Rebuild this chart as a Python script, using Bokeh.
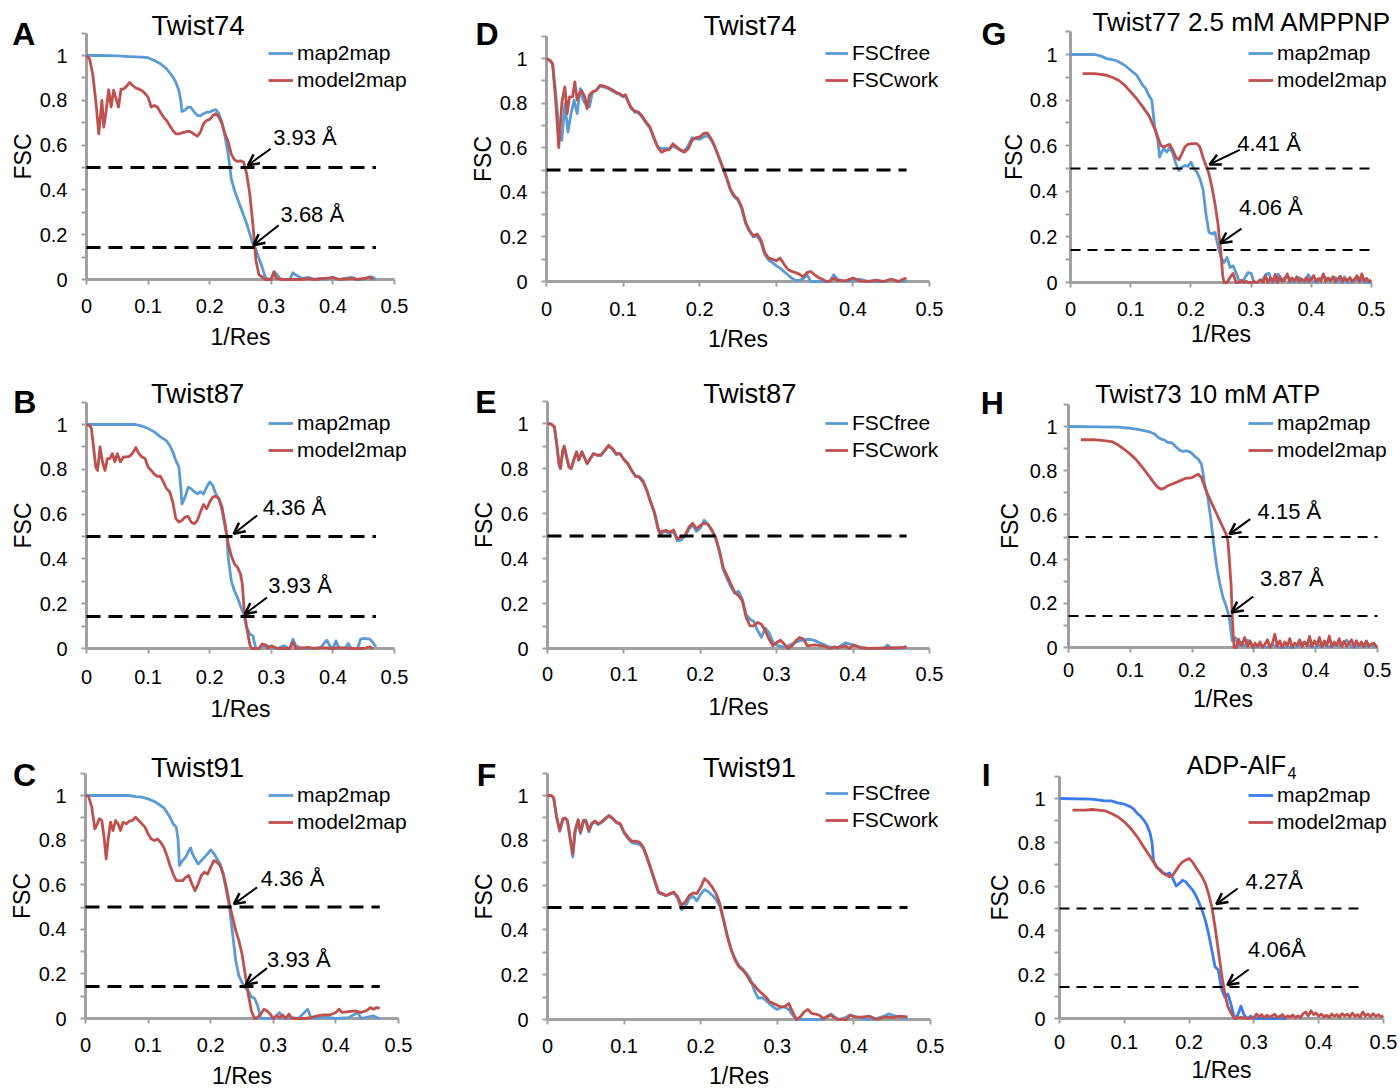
from bokeh.plotting import figure
from bokeh.models import (Range1d, FixedTicker, PrintfTickFormatter, Label, Arrow,
                          OpenHead, Legend, LegendItem)
from bokeh.layouts import row, column
from bokeh.embed import file_html
from bokeh.resources import INLINE

FONT = "Liberation Sans"
BLUE = "#5B9BD5"
RED = "#C0504D"
BLUE_I = "#3D7BF2"
AXIS = "#A0A0A0"

# ---------------- data (x = 1/Res, y = FSC) ----------------
X_TICKS = [0, 0.1, 0.2, 0.3, 0.4, 0.5]
Y_TICKS = [0, 0.2, 0.4, 0.6, 0.8, 1.0]
Y_MINOR = [0.1, 0.3, 0.5, 0.7, 0.9, 1.1]
THRESH_HALF = 0.5
THRESH_GOLD = 0.143

A_map = [(0,1.0),(0.02,1.0),(0.05,0.998),(0.07,0.995),(0.09,0.993),(0.1,0.99),(0.11,0.978),(0.12,0.963),(0.13,0.94),(0.14,0.906),(0.145,0.88),(0.15,0.844),(0.153,0.80),(0.155,0.75),(0.16,0.757),(0.165,0.77),(0.17,0.767),(0.175,0.747),(0.18,0.733),(0.185,0.73),(0.19,0.74),(0.195,0.747),(0.2,0.747),(0.205,0.755),(0.21,0.758),(0.215,0.74),(0.22,0.70),(0.225,0.636),(0.23,0.56),(0.235,0.45),(0.24,0.40),(0.25,0.324),(0.26,0.25),(0.27,0.16),(0.275,0.134),(0.28,0.094),(0.285,0.056),(0.29,0.012),(0.295,0.0),(0.3,0.005),(0.305,0.034),(0.31,0.02),(0.315,0.0),(0.33,0.0),(0.335,0.03),(0.34,0.02),(0.35,0.005),(0.36,0.01),(0.37,0.0),(0.38,0.005),(0.39,0.0),(0.4,0.01),(0.41,0.0),(0.42,0.005),(0.43,0.01),(0.44,0.0),(0.45,0.0),(0.46,0.012),(0.465,0.01),(0.47,0.0)]
A_model = [(0,1.0),(0.005,0.985),(0.01,0.918),(0.015,0.80),(0.02,0.65),(0.025,0.80),(0.028,0.68),(0.032,0.755),(0.036,0.847),(0.04,0.77),(0.044,0.845),(0.048,0.807),(0.052,0.77),(0.056,0.85),(0.06,0.85),(0.065,0.862),(0.07,0.88),(0.075,0.866),(0.08,0.855),(0.085,0.85),(0.09,0.844),(0.095,0.83),(0.1,0.814),(0.105,0.77),(0.11,0.777),(0.115,0.77),(0.12,0.747),(0.125,0.725),(0.13,0.71),(0.135,0.688),(0.14,0.666),(0.145,0.65),(0.15,0.65),(0.155,0.655),(0.16,0.658),(0.165,0.662),(0.17,0.658),(0.175,0.648),(0.18,0.64),(0.185,0.658),(0.19,0.695),(0.195,0.71),(0.2,0.715),(0.205,0.732),(0.21,0.74),(0.215,0.725),(0.22,0.695),(0.225,0.65),(0.23,0.614),(0.235,0.56),(0.24,0.535),(0.245,0.527),(0.25,0.53),(0.255,0.524),(0.26,0.472),(0.265,0.383),(0.27,0.25),(0.275,0.086),(0.28,0.02),(0.285,0.012),(0.29,0.0),(0.3,0.0),(0.304,0.034),(0.308,0.005),(0.32,0.0),(0.35,0.0),(0.36,0.004),(0.37,0.0),(0.4,0.008),(0.41,0.0),(0.43,0.005),(0.44,0.0),(0.46,0.01),(0.465,0.0)]

B_map = [(0,1.0),(0.08,1.0),(0.09,0.993),(0.1,0.982),(0.11,0.967),(0.12,0.945),(0.13,0.927),(0.135,0.907),(0.14,0.878),(0.145,0.84),(0.15,0.81),(0.153,0.72),(0.155,0.646),(0.16,0.676),(0.165,0.72),(0.17,0.713),(0.175,0.70),(0.18,0.69),(0.185,0.70),(0.19,0.69),(0.195,0.72),(0.2,0.743),(0.205,0.728),(0.21,0.69),(0.215,0.668),(0.22,0.616),(0.225,0.54),(0.228,0.497),(0.23,0.407),(0.235,0.303),(0.24,0.258),(0.245,0.228),(0.25,0.19),(0.255,0.154),(0.26,0.094),(0.265,0.064),(0.27,0.057),(0.275,0.0),(0.28,0.0),(0.29,0.016),(0.3,0.005),(0.31,0.0),(0.32,0.012),(0.33,0.0),(0.335,0.042),(0.34,0.012),(0.35,0.0),(0.37,0.0),(0.38,0.004),(0.39,0.037),(0.395,0.012),(0.4,0.0),(0.405,0.034),(0.41,0.0),(0.42,0.002),(0.425,0.022),(0.43,0.0),(0.44,0.0),(0.445,0.042),(0.45,0.045),(0.46,0.042),(0.465,0.027),(0.47,0.007)]
B_model = [(0,1.0),(0.005,0.995),(0.008,0.982),(0.012,0.885),(0.015,0.81),(0.018,0.795),(0.022,0.90),(0.026,0.833),(0.03,0.795),(0.034,0.848),(0.038,0.848),(0.042,0.87),(0.046,0.833),(0.05,0.87),(0.055,0.833),(0.06,0.855),(0.065,0.855),(0.07,0.858),(0.075,0.873),(0.08,0.897),(0.085,0.87),(0.09,0.855),(0.095,0.848),(0.1,0.81),(0.105,0.795),(0.11,0.778),(0.115,0.769),(0.12,0.769),(0.125,0.743),(0.13,0.713),(0.135,0.70),(0.14,0.654),(0.145,0.58),(0.15,0.564),(0.155,0.572),(0.16,0.587),(0.165,0.59),(0.17,0.564),(0.175,0.557),(0.18,0.572),(0.185,0.61),(0.19,0.643),(0.195,0.624),(0.2,0.654),(0.205,0.676),(0.21,0.68),(0.215,0.668),(0.22,0.631),(0.225,0.557),(0.228,0.504),(0.23,0.467),(0.235,0.415),(0.24,0.378),(0.245,0.363),(0.25,0.333),(0.253,0.288),(0.256,0.169),(0.26,0.094),(0.265,0.019),(0.268,0.0),(0.28,0.0),(0.285,0.02),(0.29,0.016),(0.295,0.0),(0.3,0.012),(0.31,0.0),(0.33,0.0),(0.335,0.027),(0.34,0.0),(0.36,0.005),(0.37,0.0),(0.38,0.004),(0.4,0.0),(0.41,0.004),(0.43,0.0),(0.45,0.0),(0.46,0.007),(0.465,0.0)]

C_map = [(0,1.0),(0.07,1.0),(0.08,0.995),(0.09,0.993),(0.1,0.985),(0.11,0.973),(0.12,0.955),(0.125,0.945),(0.13,0.925),(0.135,0.903),(0.14,0.873),(0.145,0.858),(0.148,0.80),(0.15,0.686),(0.155,0.708),(0.16,0.723),(0.165,0.753),(0.168,0.765),(0.17,0.744),(0.175,0.716),(0.18,0.693),(0.185,0.708),(0.19,0.723),(0.195,0.738),(0.2,0.756),(0.205,0.741),(0.21,0.716),(0.215,0.693),(0.22,0.648),(0.225,0.573),(0.23,0.499),(0.235,0.379),(0.24,0.259),(0.245,0.192),(0.25,0.162),(0.255,0.139),(0.26,0.124),(0.265,0.097),(0.27,0.091),(0.275,0.057),(0.28,0.0),(0.3,0.0),(0.31,0.027),(0.315,0.0),(0.33,0.004),(0.34,0.0),(0.355,0.042),(0.36,0.004),(0.37,0.0),(0.38,0.007),(0.4,0.0),(0.42,0.004),(0.435,0.027),(0.44,0.0),(0.46,0.012),(0.465,0.004),(0.47,0.0)]
C_model = [(0,1.0),(0.005,0.995),(0.01,0.948),(0.015,0.85),(0.018,0.866),(0.022,0.896),(0.026,0.888),(0.03,0.805),(0.033,0.716),(0.036,0.798),(0.04,0.88),(0.044,0.843),(0.048,0.888),(0.052,0.873),(0.056,0.843),(0.06,0.88),(0.065,0.873),(0.07,0.885),(0.075,0.888),(0.08,0.903),(0.085,0.888),(0.09,0.873),(0.095,0.858),(0.1,0.828),(0.105,0.805),(0.11,0.798),(0.115,0.805),(0.12,0.79),(0.125,0.768),(0.13,0.731),(0.135,0.686),(0.14,0.648),(0.145,0.618),(0.15,0.618),(0.155,0.618),(0.16,0.633),(0.165,0.641),(0.17,0.603),(0.175,0.573),(0.18,0.603),(0.185,0.641),(0.19,0.656),(0.195,0.648),(0.2,0.678),(0.205,0.708),(0.21,0.701),(0.215,0.686),(0.22,0.648),(0.225,0.588),(0.23,0.513),(0.235,0.454),(0.24,0.394),(0.245,0.349),(0.25,0.289),(0.255,0.199),(0.26,0.109),(0.265,0.034),(0.27,0.0),(0.275,0.005),(0.28,0.02),(0.285,0.042),(0.29,0.034),(0.295,0.02),(0.3,0.0),(0.305,0.012),(0.31,0.004),(0.315,0.016),(0.32,0.0),(0.325,0.02),(0.33,0.0),(0.35,0.0),(0.36,0.004),(0.37,0.012),(0.38,0.016),(0.39,0.016),(0.4,0.027),(0.405,0.042),(0.41,0.027),(0.42,0.031),(0.43,0.034),(0.44,0.027),(0.45,0.037),(0.455,0.049),(0.46,0.042),(0.465,0.049),(0.47,0.045)]

D_free = [(0,1.0),(0.005,0.99),(0.008,0.975),(0.012,0.843),(0.016,0.693),(0.02,0.633),(0.024,0.798),(0.028,0.67),(0.032,0.753),(0.036,0.813),(0.04,0.753),(0.044,0.865),(0.048,0.813),(0.052,0.79),(0.056,0.783),(0.06,0.85),(0.065,0.858),(0.07,0.876),(0.075,0.872),(0.08,0.866),(0.085,0.857),(0.09,0.846),(0.095,0.84),(0.1,0.828),(0.103,0.834),(0.107,0.8),(0.11,0.778),(0.115,0.76),(0.12,0.756),(0.125,0.736),(0.13,0.71),(0.135,0.688),(0.14,0.642),(0.145,0.605),(0.15,0.595),(0.155,0.598),(0.16,0.594),(0.165,0.608),(0.17,0.598),(0.175,0.59),(0.18,0.585),(0.185,0.61),(0.19,0.645),(0.195,0.64),(0.2,0.638),(0.205,0.648),(0.21,0.655),(0.215,0.635),(0.22,0.6),(0.225,0.555),(0.23,0.51),(0.235,0.465),(0.24,0.41),(0.245,0.38),(0.25,0.365),(0.255,0.325),(0.26,0.26),(0.265,0.225),(0.27,0.2),(0.275,0.205),(0.28,0.175),(0.285,0.12),(0.29,0.095),(0.295,0.085),(0.3,0.07),(0.305,0.06),(0.31,0.045),(0.315,0.03),(0.32,0.015),(0.325,0.005),(0.33,0.005),(0.335,0.012),(0.34,0.03),(0.345,0.0),(0.37,0.0),(0.375,0.03),(0.38,0.01),(0.39,0.0),(0.4,0.005),(0.41,0.01),(0.42,0.0),(0.44,0.0),(0.45,0.01),(0.46,0.0),(0.47,0.0)]
D_work = [(0,1.0),(0.005,0.99),(0.008,0.975),(0.012,0.81),(0.016,0.60),(0.02,0.80),(0.024,0.873),(0.027,0.753),(0.03,0.828),(0.034,0.828),(0.037,0.895),(0.04,0.813),(0.043,0.843),(0.046,0.855),(0.05,0.828),(0.053,0.775),(0.056,0.835),(0.06,0.85),(0.065,0.858),(0.07,0.88),(0.075,0.876),(0.08,0.87),(0.085,0.861),(0.09,0.85),(0.095,0.843),(0.1,0.831),(0.103,0.838),(0.107,0.805),(0.11,0.783),(0.115,0.765),(0.12,0.76),(0.125,0.741),(0.13,0.715),(0.135,0.693),(0.14,0.648),(0.145,0.603),(0.15,0.58),(0.155,0.588),(0.16,0.591),(0.165,0.618),(0.17,0.603),(0.175,0.588),(0.18,0.58),(0.185,0.595),(0.19,0.633),(0.195,0.645),(0.2,0.648),(0.205,0.663),(0.21,0.666),(0.215,0.64),(0.22,0.603),(0.225,0.558),(0.23,0.513),(0.235,0.468),(0.24,0.415),(0.245,0.385),(0.25,0.37),(0.255,0.333),(0.26,0.265),(0.265,0.228),(0.27,0.205),(0.275,0.213),(0.28,0.186),(0.285,0.13),(0.29,0.105),(0.295,0.10),(0.3,0.093),(0.305,0.105),(0.31,0.078),(0.315,0.055),(0.32,0.045),(0.325,0.04),(0.33,0.033),(0.335,0.021),(0.34,0.04),(0.345,0.045),(0.35,0.03),(0.355,0.018),(0.36,0.01),(0.365,0.0),(0.37,0.003),(0.375,0.015),(0.38,0.006),(0.39,0.003),(0.4,0.015),(0.41,0.003),(0.42,0.0),(0.43,0.006),(0.44,0.0),(0.45,0.01),(0.46,0.0),(0.465,0.01),(0.47,0.015)]

E_free = [(0,1.0),(0.005,0.997),(0.009,0.985),(0.012,0.91),(0.015,0.822),(0.017,0.80),(0.02,0.88),(0.022,0.899),(0.025,0.851),(0.028,0.807),(0.031,0.80),(0.035,0.844),(0.038,0.874),(0.041,0.837),(0.045,0.874),(0.048,0.851),(0.052,0.822),(0.056,0.844),(0.06,0.866),(0.065,0.859),(0.07,0.859),(0.075,0.881),(0.08,0.9),(0.085,0.884),(0.09,0.862),(0.095,0.866),(0.1,0.84),(0.105,0.822),(0.11,0.792),(0.115,0.768),(0.12,0.765),(0.125,0.748),(0.13,0.703),(0.135,0.651),(0.14,0.6),(0.145,0.525),(0.148,0.503),(0.15,0.515),(0.155,0.52),(0.16,0.51),(0.165,0.52),(0.17,0.478),(0.175,0.482),(0.18,0.5),(0.185,0.53),(0.19,0.55),(0.195,0.52),(0.2,0.535),(0.205,0.57),(0.21,0.552),(0.215,0.525),(0.22,0.49),(0.225,0.43),(0.23,0.35),(0.235,0.31),(0.24,0.275),(0.245,0.245),(0.25,0.255),(0.255,0.22),(0.26,0.15),(0.265,0.13),(0.27,0.12),(0.275,0.08),(0.28,0.05),(0.285,0.09),(0.29,0.07),(0.295,0.03),(0.3,0.015),(0.31,0.005),(0.32,0.02),(0.33,0.035),(0.34,0.04),(0.345,0.04),(0.35,0.035),(0.36,0.02),(0.37,0.005),(0.38,0.005),(0.39,0.025),(0.4,0.015),(0.41,0.005),(0.42,0.0),(0.44,0.0),(0.445,0.015),(0.45,0.0),(0.46,0.0),(0.47,0.01)]
E_work = [(0,1.0),(0.005,0.997),(0.009,0.985),(0.012,0.91),(0.015,0.822),(0.017,0.80),(0.02,0.88),(0.022,0.899),(0.025,0.851),(0.028,0.807),(0.031,0.80),(0.035,0.844),(0.038,0.874),(0.041,0.837),(0.045,0.874),(0.048,0.851),(0.052,0.822),(0.056,0.844),(0.06,0.866),(0.065,0.859),(0.07,0.859),(0.075,0.881),(0.08,0.903),(0.085,0.889),(0.09,0.866),(0.095,0.866),(0.1,0.84),(0.105,0.822),(0.11,0.792),(0.115,0.765),(0.12,0.762),(0.125,0.74),(0.13,0.703),(0.135,0.651),(0.14,0.606),(0.145,0.532),(0.148,0.51),(0.15,0.522),(0.155,0.525),(0.16,0.517),(0.165,0.527),(0.17,0.487),(0.175,0.495),(0.18,0.502),(0.185,0.539),(0.19,0.557),(0.195,0.532),(0.2,0.547),(0.205,0.557),(0.21,0.551),(0.215,0.527),(0.22,0.495),(0.225,0.435),(0.23,0.361),(0.235,0.324),(0.24,0.287),(0.245,0.25),(0.25,0.235),(0.255,0.212),(0.26,0.138),(0.265,0.101),(0.27,0.101),(0.275,0.116),(0.28,0.108),(0.285,0.079),(0.29,0.042),(0.295,0.012),(0.3,0.027),(0.305,0.037),(0.31,0.019),(0.315,0.0),(0.32,0.012),(0.325,0.034),(0.33,0.049),(0.335,0.042),(0.34,0.012),(0.35,0.016),(0.36,0.012),(0.37,0.0),(0.375,0.007),(0.38,0.004),(0.39,0.012),(0.395,0.0),(0.4,0.016),(0.41,0.004),(0.42,0.0),(0.47,0.005)]

F_free = [(0,1.0),(0.005,1.0),(0.008,0.99),(0.012,0.9),(0.016,0.84),(0.02,0.893),(0.023,0.897),(0.026,0.885),(0.03,0.795),(0.033,0.725),(0.036,0.835),(0.04,0.885),(0.043,0.83),(0.047,0.882),(0.05,0.884),(0.054,0.838),(0.058,0.872),(0.062,0.882),(0.066,0.87),(0.07,0.878),(0.075,0.893),(0.08,0.908),(0.085,0.896),(0.09,0.878),(0.095,0.87),(0.1,0.832),(0.105,0.808),(0.11,0.79),(0.115,0.785),(0.12,0.782),(0.125,0.765),(0.13,0.72),(0.135,0.668),(0.14,0.615),(0.145,0.565),(0.15,0.558),(0.155,0.552),(0.16,0.56),(0.165,0.565),(0.17,0.54),(0.175,0.49),(0.18,0.505),(0.185,0.54),(0.19,0.55),(0.195,0.53),(0.2,0.56),(0.205,0.58),(0.21,0.57),(0.215,0.555),(0.22,0.535),(0.225,0.505),(0.23,0.44),(0.235,0.37),(0.24,0.31),(0.245,0.27),(0.25,0.24),(0.255,0.225),(0.26,0.205),(0.265,0.18),(0.27,0.13),(0.275,0.095),(0.28,0.098),(0.285,0.085),(0.29,0.07),(0.295,0.055),(0.3,0.045),(0.305,0.055),(0.31,0.055),(0.315,0.045),(0.32,0.02),(0.325,0.0),(0.36,0.0),(0.365,0.015),(0.37,0.025),(0.375,0.01),(0.38,0.0),(0.39,0.01),(0.395,0.02),(0.4,0.015),(0.41,0.005),(0.42,0.0),(0.43,0.005),(0.44,0.015),(0.445,0.025),(0.45,0.02),(0.46,0.01),(0.47,0.005)]
F_work = [(0,1.0),(0.005,1.0),(0.008,0.99),(0.012,0.903),(0.016,0.844),(0.02,0.896),(0.023,0.9),(0.026,0.889),(0.03,0.8),(0.033,0.74),(0.036,0.844),(0.04,0.892),(0.043,0.837),(0.047,0.889),(0.05,0.889),(0.054,0.844),(0.058,0.877),(0.062,0.886),(0.066,0.874),(0.07,0.881),(0.075,0.896),(0.08,0.911),(0.085,0.899),(0.09,0.881),(0.095,0.874),(0.1,0.837),(0.105,0.814),(0.11,0.796),(0.115,0.796),(0.12,0.792),(0.125,0.77),(0.13,0.725),(0.135,0.673),(0.14,0.621),(0.145,0.569),(0.15,0.562),(0.155,0.554),(0.16,0.562),(0.165,0.569),(0.17,0.547),(0.175,0.51),(0.18,0.525),(0.185,0.554),(0.19,0.565),(0.195,0.562),(0.2,0.591),(0.205,0.629),(0.21,0.614),(0.215,0.591),(0.22,0.562),(0.225,0.517),(0.23,0.443),(0.235,0.368),(0.24,0.309),(0.245,0.264),(0.25,0.235),(0.255,0.22),(0.26,0.198),(0.265,0.168),(0.27,0.153),(0.275,0.131),(0.28,0.116),(0.285,0.101),(0.29,0.079),(0.295,0.071),(0.3,0.064),(0.305,0.056),(0.31,0.059),(0.315,0.071),(0.32,0.034),(0.325,0.0),(0.33,0.012),(0.335,0.034),(0.34,0.045),(0.345,0.027),(0.35,0.024),(0.355,0.019),(0.36,0.004),(0.365,0.012),(0.37,0.019),(0.375,0.008),(0.38,0.0),(0.39,0.0),(0.395,0.019),(0.4,0.012),(0.41,0.01),(0.42,0.015),(0.43,0.0),(0.44,0.012),(0.45,0.008),(0.46,0.015),(0.47,0.012)]

G_map = [(0,1.0),(0.04,1.0),(0.05,0.994),(0.06,0.982),(0.07,0.978),(0.08,0.968),(0.09,0.953),(0.1,0.931),(0.11,0.909),(0.115,0.887),(0.12,0.865),(0.125,0.85),(0.13,0.821),(0.135,0.799),(0.14,0.682),(0.145,0.623),(0.148,0.55),(0.15,0.565),(0.155,0.587),(0.16,0.572),(0.165,0.594),(0.17,0.565),(0.175,0.521),(0.18,0.491),(0.185,0.506),(0.19,0.513),(0.195,0.509),(0.2,0.528),(0.205,0.499),(0.21,0.484),(0.215,0.455),(0.22,0.411),(0.225,0.301),(0.23,0.22),(0.235,0.213),(0.24,0.22),(0.245,0.161),(0.25,0.11),(0.255,0.088),(0.26,0.11),(0.265,0.066),(0.27,0.073),(0.275,0.044),(0.28,0.007),(0.285,0.0),(0.29,0.022),(0.295,0.044),(0.3,0.04),(0.305,0.0),(0.31,0.0),(0.32,0.015),(0.325,0.037),(0.33,0.04),(0.335,0.0),(0.34,0.007),(0.345,0.037),(0.35,0.01),(0.36,0.029),(0.37,0.0),(0.38,0.022),(0.39,0.0),(0.395,0.034),(0.4,0.01),(0.41,0.0),(0.42,0.028),(0.43,0.007),(0.44,0.022),(0.45,0.0),(0.455,0.025),(0.46,0.0),(0.47,0.007),(0.48,0.015),(0.49,0.0),(0.5,0.0)]
G_model = [(0.02,0.916),(0.04,0.916),(0.05,0.913),(0.06,0.909),(0.07,0.899),(0.08,0.887),(0.09,0.865),(0.1,0.836),(0.11,0.806),(0.12,0.77),(0.13,0.733),(0.14,0.674),(0.145,0.638),(0.15,0.601),(0.155,0.594),(0.16,0.601),(0.165,0.606),(0.17,0.579),(0.175,0.55),(0.18,0.538),(0.185,0.565),(0.19,0.594),(0.195,0.606),(0.2,0.609),(0.205,0.609),(0.21,0.609),(0.215,0.594),(0.22,0.55),(0.225,0.513),(0.23,0.477),(0.235,0.418),(0.24,0.345),(0.245,0.257),(0.25,0.125),(0.253,0.029),(0.255,0.0),(0.26,0.0),(0.265,0.022),(0.27,0.04),(0.275,0.0),(0.28,0.0),(0.284,0.01),(0.288,0.0),(0.292,0.005),(0.296,0.0),(0.3,0.0),(0.305,0.004),(0.31,0.0),(0.315,0.012),(0.32,0.0),(0.324,0.03),(0.328,0.0),(0.332,0.02),(0.336,0.004),(0.34,0.035),(0.344,0.0),(0.348,0.025),(0.352,0.005),(0.356,0.012),(0.36,0.038),(0.364,0.004),(0.368,0.02),(0.372,0.008),(0.376,0.025),(0.38,0.004),(0.384,0.015),(0.388,0.006),(0.392,0.022),(0.396,0.004),(0.4,0.015),(0.404,0.03),(0.408,0.004),(0.412,0.018),(0.416,0.006),(0.42,0.038),(0.424,0.004),(0.428,0.02),(0.432,0.008),(0.436,0.025),(0.44,0.004),(0.444,0.015),(0.448,0.028),(0.452,0.004),(0.456,0.018),(0.46,0.008),(0.464,0.022),(0.468,0.004),(0.472,0.015),(0.476,0.03),(0.48,0.004),(0.484,0.038),(0.488,0.006),(0.492,0.018),(0.496,0.004),(0.5,0.01)]

H_map = [(0,1.0),(0.05,0.998),(0.08,0.997),(0.1,0.992),(0.11,0.988),(0.12,0.983),(0.13,0.977),(0.14,0.965),(0.145,0.95),(0.15,0.943),(0.155,0.94),(0.16,0.928),(0.165,0.928),(0.17,0.92),(0.175,0.905),(0.18,0.893),(0.185,0.887),(0.19,0.89),(0.195,0.887),(0.2,0.878),(0.205,0.863),(0.21,0.852),(0.215,0.83),(0.218,0.784),(0.22,0.739),(0.225,0.686),(0.23,0.588),(0.235,0.468),(0.24,0.362),(0.245,0.287),(0.25,0.226),(0.255,0.189),(0.26,0.136),(0.265,0.03),(0.27,0.045),(0.275,0.008),(0.28,0.023),(0.285,0.003),(0.29,0.033),(0.295,0.018),(0.3,0.0),(0.31,0.008),(0.32,0.0),(0.33,0.012),(0.34,0.0),(0.37,0.003),(0.38,0.023),(0.39,0.008),(0.4,0.0),(0.41,0.015),(0.42,0.003),(0.43,0.008),(0.44,0.012),(0.45,0.033),(0.455,0.015),(0.46,0.0),(0.47,0.008),(0.48,0.003),(0.49,0.012),(0.5,0.0)]
H_model = [(0.02,0.94),(0.04,0.94),(0.05,0.938),(0.06,0.935),(0.07,0.932),(0.08,0.917),(0.09,0.897),(0.1,0.875),(0.11,0.848),(0.12,0.814),(0.13,0.777),(0.14,0.739),(0.145,0.724),(0.15,0.716),(0.155,0.721),(0.16,0.731),(0.17,0.742),(0.18,0.754),(0.19,0.766),(0.195,0.766),(0.2,0.769),(0.205,0.777),(0.21,0.784),(0.215,0.769),(0.22,0.731),(0.225,0.694),(0.23,0.664),(0.235,0.633),(0.24,0.603),(0.245,0.573),(0.25,0.543),(0.255,0.513),(0.258,0.483),(0.26,0.407),(0.263,0.287),(0.265,0.136),(0.268,0.0),(0.272,0.0),(0.275,0.038),(0.28,0.008),(0.285,0.045),(0.29,0.005),(0.294,0.03),(0.298,0.0),(0.302,0.02),(0.306,0.005),(0.31,0.025),(0.314,0.0),(0.318,0.015),(0.322,0.035),(0.326,0.0),(0.33,0.02),(0.334,0.06),(0.338,0.005),(0.342,0.03),(0.346,0.0),(0.35,0.025),(0.354,0.008),(0.358,0.04),(0.362,0.0),(0.366,0.02),(0.37,0.01),(0.374,0.035),(0.378,0.004),(0.382,0.025),(0.386,0.008),(0.39,0.05),(0.394,0.004),(0.398,0.03),(0.402,0.01),(0.406,0.045),(0.41,0.004),(0.414,0.03),(0.418,0.008),(0.422,0.052),(0.426,0.004),(0.43,0.025),(0.434,0.01),(0.438,0.04),(0.442,0.004),(0.446,0.028),(0.45,0.006),(0.454,0.02),(0.458,0.035),(0.462,0.004),(0.466,0.03),(0.47,0.008),(0.474,0.025),(0.478,0.004),(0.482,0.03),(0.486,0.006),(0.49,0.015),(0.494,0.02),(0.498,0.004),(0.5,0.008)]

I_map = [(0,1.0),(0.05,0.997),(0.07,0.989),(0.08,0.989),(0.09,0.98),(0.1,0.974),(0.11,0.962),(0.115,0.95),(0.12,0.932),(0.125,0.92),(0.13,0.902),(0.135,0.879),(0.14,0.841),(0.143,0.795),(0.145,0.72),(0.15,0.686),(0.155,0.677),(0.16,0.662),(0.165,0.655),(0.17,0.662),(0.175,0.636),(0.18,0.602),(0.185,0.614),(0.19,0.629),(0.195,0.621),(0.2,0.602),(0.205,0.586),(0.21,0.561),(0.215,0.53),(0.22,0.492),(0.225,0.447),(0.23,0.386),(0.235,0.311),(0.24,0.235),(0.245,0.22),(0.25,0.136),(0.255,0.098),(0.26,0.111),(0.265,0.061),(0.27,0.0),(0.275,0.015),(0.28,0.056),(0.285,0.015),(0.29,0.0),(0.295,0.011),(0.3,0.0),(0.35,0.0)]
I_model = [(0.02,0.947),(0.04,0.947),(0.05,0.95),(0.06,0.947),(0.07,0.944),(0.08,0.932),(0.09,0.917),(0.1,0.894),(0.11,0.864),(0.12,0.826),(0.13,0.78),(0.14,0.735),(0.15,0.689),(0.16,0.659),(0.17,0.644),(0.175,0.652),(0.18,0.674),(0.185,0.697),(0.19,0.712),(0.195,0.72),(0.2,0.727),(0.205,0.712),(0.21,0.689),(0.215,0.667),(0.22,0.644),(0.225,0.614),(0.23,0.568),(0.235,0.508),(0.24,0.417),(0.245,0.311),(0.25,0.205),(0.255,0.114),(0.26,0.053),(0.265,0.023),(0.27,0.0),(0.28,0.005),(0.29,0.0),(0.3,0.004),(0.304,0.02),(0.308,0.008),(0.312,0.018),(0.316,0.004),(0.32,0.015),(0.324,0.006),(0.328,0.012),(0.332,0.02),(0.336,0.004),(0.34,0.01),(0.344,0.018),(0.348,0.004),(0.352,0.012),(0.356,0.006),(0.36,0.016),(0.364,0.004),(0.368,0.012),(0.372,0.005),(0.376,0.022),(0.38,0.03),(0.384,0.012),(0.388,0.035),(0.392,0.018),(0.396,0.025),(0.4,0.01),(0.404,0.02),(0.408,0.008),(0.412,0.015),(0.416,0.005),(0.42,0.02),(0.424,0.01),(0.428,0.018),(0.432,0.006),(0.436,0.022),(0.44,0.012),(0.444,0.02),(0.448,0.008),(0.452,0.025),(0.456,0.01),(0.46,0.018),(0.464,0.006),(0.468,0.03),(0.472,0.012),(0.476,0.02),(0.48,0.008),(0.484,0.022),(0.488,0.01),(0.492,0.018),(0.496,0.008),(0.5,0.012)]

RES_LABELS = {
    "A": ["3.93 Å", "3.68 Å"], "B": ["4.36 Å", "3.93 Å"], "C": ["4.36 Å", "3.93 Å"],
    "G": ["4.41 Å", "4.06 Å"], "H": ["4.15 Å", "3.87 Å"], "I": ["4.27Å", "4.06Å"],
}
TITLES = {"A": "Twist74", "B": "Twist87", "C": "Twist91", "D": "Twist74", "E": "Twist87",
          "F": "Twist91", "G": "Twist77 2.5 mM AMPPNP", "H": "Twist73 10 mM ATP", "I": "ADP-AlF"}
SERIES = {"A": (A_map, A_model), "B": (B_map, B_model), "C": (C_map, C_model),
          "D": (D_free, D_work), "E": (E_free, E_work), "F": (F_free, F_work),
          "G": (G_map, G_model), "H": (H_map, H_model), "I": (I_map, I_model)}
NAMES_MAP = ("map2map", "model2map")
NAMES_FSC = ("FSCfree", "FSCwork")

# ---------------- placement (layout, not data) ----------------
# fig_left, fig_top, fig_w, fig_h, px(x=0), px(x=0.5), py(y=0), py(y=1)
GEOM = {
    "A": (0, 0, 466, 377, 86, 394, 279, 55),
    "B": (0, 377, 466, 369, 86, 394, 648, 424),
    "C": (0, 746, 466, 342, 85, 398, 1018, 795),
    "D": (466, 0, 492, 377, 546, 929, 281, 58),
    "E": (466, 377, 492, 369, 547, 929, 648, 423),
    "F": (466, 746, 492, 342, 547, 930, 1019, 795),
    "G": (958, 0, 442, 377, 1070, 1371, 282, 54),
    "H": (958, 377, 442, 369, 1068, 1377, 647, 426),
    "I": (958, 746, 442, 342, 1059, 1383, 1018, 798),
}
LABEL_RAISE_PX = 8
# y tick standoff, y label standoff, x tick standoff, x label standoff
STANDOFF = {"A": (14, 1, 14, 8), "B": (14, 1, 16, 9), "C": (14, 1, 14, 8),
            "D": (14, 1, 15, 7), "E": (14, 1, 13, 10), "F": (14, 1, 14, 7),
            "G": (8, 0, 14, 2), "H": (6, 4, 10, 6), "I": (9, 2, 11, 5)}
# legend: left px, 2nd row centre px, glyph width
LEG = {"A": (268, 80, 25), "B": (268, 450, 25), "C": (268, 822, 25),
       "D": (825, 80, 23), "E": (825, 450, 23), "F": (825, 820, 23),
       "G": (1248, 80, 25), "H": (1248, 450, 25), "I": (1248, 822, 25)}
TITLE_POS = {"A": (0.181, 1.097), "B": (0.1805, 1.101), "C": (0.179, 1.09),
             "D": (0.2657, 1.112), "E": (0.265, 1.097), "F": (0.2637, 1.089),
             "G": (0.285, 1.107), "H": (0.2265, 1.113), "I": (0.273, 1.114)}
TITLE_SIZE = {"G": "26px", "H": "25.5px", "I": "25.5px"}
SUB_POS = (0.352, 1.08)
LETTER_POS = {"A": (-0.1205, 1.059), "B": (-0.119, 1.064), "C": (-0.1157, 1.055),
              "D": (-0.0926, 1.075), "E": (-0.0947, 1.059), "F": (-0.0924, 1.055),
              "G": (-0.148, 1.056), "H": (-0.142, 1.071), "I": (-0.12, 1.071)}
NOTE_POS = {"A": [(0.303, 0.599), (0.315, 0.253)], "B": [(0.286, 0.594), (0.295, 0.246)],
            "C": [(0.28, 0.593), (0.29, 0.229)], "G": [(0.277, 0.576), (0.28, 0.293)],
            "H": [(0.306, 0.581), (0.31, 0.275)], "I": [(0.287, 0.586), (0.291, 0.277)]}
ARROWS = {"A": [((0.299, 0.584), (0.262, 0.51)), ((0.312, 0.242), (0.271, 0.153))],
          "B": [((0.277, 0.594), (0.239, 0.512)), ((0.293, 0.228), (0.257, 0.154))],
          "C": [((0.274, 0.588), (0.237, 0.513)), ((0.290, 0.226), (0.256, 0.151))],
          "G": [((0.281, 0.582), (0.231, 0.518)), ((0.284, 0.236), (0.249, 0.172))],
          "H": [((0.294, 0.581), (0.2605, 0.513)), ((0.299, 0.231), (0.264, 0.158))],
          "I": [((0.275, 0.591), (0.242, 0.52)), ((0.292, 0.223), (0.259, 0.152))]}
DASH_END = {"A": 0.47, "B": 0.47, "C": 0.47, "D": 0.47, "E": 0.47, "F": 0.47,
            "G": 0.5, "H": 0.5, "I": 0.47}


def unzip(pairs):
    return [p[0] for p in pairs], [p[1] for p in pairs]


def make_panel(key):
    fl, ft, fw, fh, x0, x05, y0, y1 = GEOM[key]
    sx = (x05 - x0) / 0.5
    sy = y0 - y1
    raise_y = LABEL_RAISE_PX / sy
    xr = Range1d((fl - x0) / sx, (fl + fw - x0) / sx)
    yr = Range1d((y0 - (ft + fh)) / sy, (y0 - ft) / sy)
    p = figure(width=fw, height=fh, x_range=xr, y_range=yr,
               min_border_left=0, min_border_right=0, min_border_top=0, min_border_bottom=0,
               output_backend="svg", toolbar_location=None, tools="")
    p.outline_line_color = None
    p.xgrid.visible = False
    p.ygrid.visible = False
    p.background_fill_color = "white"
    p.border_fill_color = "white"

    yts, yls, xts, xls = STANDOFF[key]
    xa = p.xaxis[0]
    ya = p.yaxis[0]
    xa.fixed_location = 0
    ya.fixed_location = 0
    xa.bounds = (0, 0.5)
    ya.bounds = (0, 1.1)
    xa.ticker = FixedTicker(ticks=X_TICKS, minor_ticks=[])
    ya.ticker = FixedTicker(ticks=Y_TICKS, minor_ticks=Y_MINOR)
    for ax in (xa, ya):
        ax.level = "underlay"
        ax.formatter = PrintfTickFormatter(format="%g")
        ax.axis_line_color = AXIS
        ax.axis_line_width = 3
        ax.major_tick_line_color = AXIS
        ax.major_tick_line_width = 2
        ax.major_tick_in = 0
        ax.major_tick_out = 5
        ax.minor_tick_line_color = AXIS
        ax.minor_tick_line_width = 2
        ax.minor_tick_in = 0
        ax.minor_tick_out = 5
        ax.major_label_text_font = FONT
        ax.major_label_text_font_size = "20px"
        ax.major_label_text_color = "black"
        ax.axis_label_text_font = FONT
        ax.axis_label_text_font_size = "23px"
        ax.axis_label_text_font_style = "normal"
        ax.axis_label_text_color = "black"
    xa.axis_label = "1/Res"
    ya.axis_label = "FSC"
    xa.major_label_standoff = xts
    xa.axis_label_standoff = xls
    ya.major_label_standoff = yts
    ya.axis_label_standoff = yls

    s1, s2 = SERIES[key]
    blue = BLUE_I if key == "I" else BLUE
    bx, by = unzip(s1)
    rx, ry = unzip(s2)
    r1 = p.line(bx, by, line_color=blue, line_width=2.8, line_join="round")
    r2 = p.line(rx, ry, line_color=RED, line_width=2.8, line_join="round")

    thin = key in ("G", "H", "I")
    thresholds = [THRESH_HALF] if key in ("D", "E", "F") else [THRESH_HALF, THRESH_GOLD]
    for t in thresholds:
        p.line([0, DASH_END[key]], [t, t], line_color="black",
               line_width=2 if thin else 3, line_dash="10 7" if thin else "14 8")

    if key in RES_LABELS:
        for txt, (tx, ty), ((ax0, ay0), (ax1, ay1)) in zip(RES_LABELS[key], NOTE_POS[key], ARROWS[key]):
            p.add_layout(Label(x=tx, y=ty + raise_y, text=txt, text_font=FONT, text_font_size="22px",
                               text_align="left", text_baseline="alphabetic", text_color="black"))
            p.add_layout(Arrow(end=OpenHead(size=11, line_width=2.5, line_color="black"),
                               x_start=ax0, y_start=ay0, x_end=ax1, y_end=ay1,
                               line_width=2, line_color="black"))

    names = NAMES_FSC if key in ("D", "E", "F") else NAMES_MAP
    lleft, lrow2, gw = LEG[key]
    item_h = 24
    legend = Legend(items=[LegendItem(label=names[0], renderers=[r1]),
                           LegendItem(label=names[1], renderers=[r2])],
                    location=(lleft - fl, (ft + fh) - (lrow2 + item_h / 2)),
                    orientation="vertical", border_line_color=None, background_fill_alpha=0,
                    padding=0, margin=0, spacing=3, glyph_width=gw, glyph_height=item_h,
                    label_height=item_h, label_standoff=4, label_text_font=FONT,
                    label_text_font_size="21px", label_text_color="black")
    p.add_layout(legend)

    tx, ty = TITLE_POS[key]
    p.add_layout(Label(x=tx, y=ty + raise_y, text=TITLES[key], text_font=FONT,
                       text_font_size=TITLE_SIZE.get(key, "27.5px"), text_align="center",
                       text_baseline="alphabetic", text_color="black"))
    if key == "I":
        p.add_layout(Label(x=SUB_POS[0], y=SUB_POS[1] + raise_y, text="4", text_font=FONT,
                           text_font_size="16px", text_align="left",
                           text_baseline="alphabetic", text_color="black"))
    lx, ly = LETTER_POS[key]
    p.add_layout(Label(x=lx, y=ly + raise_y, text=key, text_font=FONT, text_font_size="32px",
                       text_font_style="bold", text_align="left", text_baseline="alphabetic",
                       text_color="black"))
    return p


panels = {k: make_panel(k) for k in "ABCDEFGHI"}
layout = column(row(panels["A"], panels["D"], panels["G"]),
                row(panels["B"], panels["E"], panels["H"]),
                row(panels["C"], panels["F"], panels["I"]))

open("out.html", "w").write(file_html(layout, INLINE))
